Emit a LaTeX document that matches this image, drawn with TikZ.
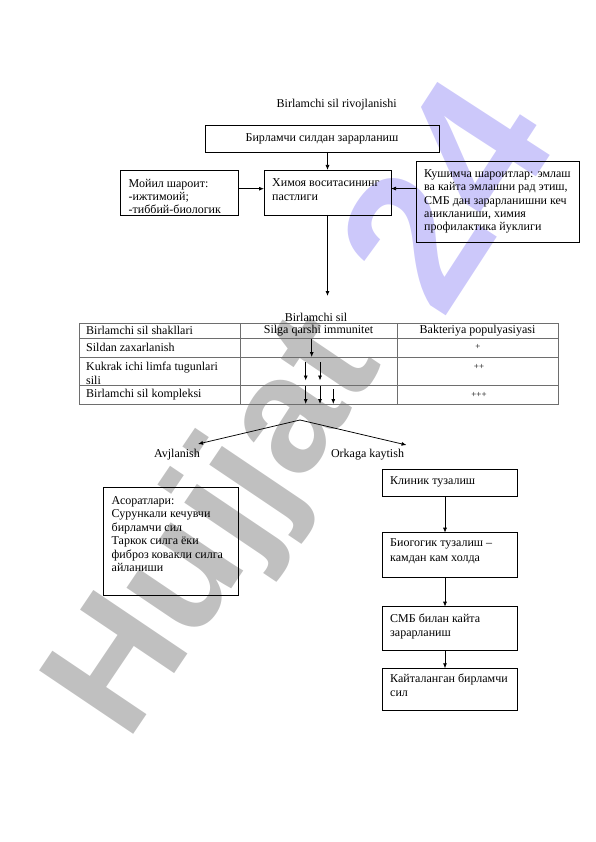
\documentclass[tikz,border=0pt]{standalone}
\usepackage{fontspec}
\setmainfont{Liberation Serif}
\newfontfamily\wmfont{Liberation Sans}
\usetikzlibrary{arrows.meta,calc}
\definecolor{wmgray}{RGB}{192,192,192}
\definecolor{wmpurple}{RGB}{204,200,250}
\definecolor{tgray}{RGB}{110,110,110}
\newcommand{\topstrut}{\rule{0pt}{9.6pt}}
\begin{document}
\begin{tikzpicture}[x=1pt,y=-1pt,
  box/.style={draw=black,line width=0.75pt,anchor=north west,inner sep=0pt,outer sep=0pt},
  txt/.style={anchor=north west,align=left,inner sep=0pt,font=\fontsize{12}{13.5}\selectfont},
  ctxt/.style={inner sep=0pt,font=\fontsize{12}{13.8}\selectfont},
  plus/.style={inner sep=0pt,font=\fontsize{9}{10}\selectfont},
  arr/.style={-{Latex[length=5pt,width=4pt]},line width=0.75pt},
  tline/.style={line width=0.75pt,draw=tgray}]
\useasboundingbox (0,0) rectangle (596,842);
% watermark
\node[anchor=base west,rotate=56,inner sep=0pt,text=wmgray,font=\wmfont\bfseries\fontsize{165}{165}\selectfont] (wmA) at (127,744) {Hujjat};
\node[anchor=base west,rotate=57,inner sep=0pt,text=wmpurple,font=\wmfont\bfseries\fontsize{195}{195}\selectfont] (wmB) at (442,322) {24};
% title
\node[ctxt] (title) at (336.7,105) {Birlamchi sil rivojlanishi};
% top boxes
\node[box,minimum width=234pt,minimum height=27pt,font=\fontsize{12}{13.8}\selectfont] (b1) at (205,125) {Бирламчи силдан зарарланиш};
\node[box,minimum width=127pt,minimum height=45pt] (b2) at (264,170) {};
\node[txt] (b2t) at (272,177) {\topstrut Химоя воситасининг\\пастлиги};
\node[box,minimum width=117.5pt,minimum height=45pt] (bl) at (120.5,170) {};
\node[txt,font=\fontsize{12}{12.9}\selectfont] (blt) at (128.5,177.5) {\topstrut Мойил шароит:\\-ижтимоий;\\-тиббий-биологик};
\node[box,minimum width=163pt,minimum height=81.7pt] (br) at (416.7,161) {};
\node[txt,font=\fontsize{12}{13.3}\selectfont] (brt) at (424,167.8) {\topstrut Кушимча шароитлар: эмлаш\\ва кайта эмлашни рад этиш,\\СМБ дан зарарланишни кеч\\аникланиши, химия\\профилактика йуклиги};
\coordinate (blA) at ($(bl.east)+(0,-3.8)$);
\coordinate (brA) at ($(br.west)+(0,-13.3)$);
\coordinate (b2end) at (327.5,296);
\draw[arr] (b1.south -| b2.north) -- (b2.north);
\draw[arr] (blA) -- (blA -| b2.west);
\draw[arr] (brA) -- (brA -| b2.east);
\draw[arr] (b2.south) -- (b2end);
% table
\node[ctxt] (tcap) at (316,317) {Birlamchi sil};
\draw[tline] (79,323.5) rectangle (558,404);
\draw[tline] (79,338) -- (558,338);
\draw[tline] (79,357) -- (558,357);
\draw[tline] (79,385.5) -- (558,385.5);
\draw[tline] (240,323.5) -- (240,404);
\draw[tline] (397,323.5) -- (397,404);
\node[ctxt,anchor=west] (h1) at (86,330.5) {Birlamchi sil shakllari};
\node[ctxt] (h2) at (318.5,330.5) {Silga qarshi immunitet};
\node[ctxt] (h3) at (477.5,330.5) {Bakteriya populyasiyasi};
\node[ctxt,anchor=west] (r1) at (86,347) {Sildan zaxarlanish};
\node[txt,font=\fontsize{12}{14.2}\selectfont] (r2) at (86,360.5) {\topstrut Kukrak ichi limfa tugunlari\\sili};
\node[ctxt,anchor=west] (r3) at (86,395) {Birlamchi sil kompleksi};
\node[plus] (p1) at (478,347) {+};
\node[plus] (p2) at (479,366.7) {++};
\node[plus] (p3) at (479,395) {+++};
\coordinate (a1s) at (311.7,338.5); \coordinate (a1e) at (311.7,357);
\coordinate (a2s) at (305.7,362); \coordinate (a2e) at (305.7,380.5);
\coordinate (a3s) at (320,362); \coordinate (a3e) at (320,380.5);
\coordinate (a4s) at (305.7,386); \coordinate (a4e) at (305.7,404);
\coordinate (a5s) at (320,386); \coordinate (a5e) at (320,404);
\coordinate (a6s) at (333.3,389); \coordinate (a6e) at (333.3,404);
\foreach \i in {1,...,6} {\draw[arr] (a\i s) -- (a\i e);}
% split
\coordinate (apex) at (300,420);
\node[ctxt] (av) at (177,455) {Avjlanish};
\node[ctxt] (ok) at (367.5,455) {Orkaga kaytish};
\draw[arr] (apex) -- ([xshift=21pt,yshift=11pt]av.center);
\draw[arr] (apex) -- ([xshift=39pt,yshift=10pt]ok.center);
% complications
\node[box,minimum width=135.3pt,minimum height=107.7pt] (cb) at (103,487.3) {};
\node[txt] (cbt) at (111.5,494.5) {\topstrut Асоратлари:\\Сурункали кечувчи\\бирламчи сил\\Таркок силга ёки\\фиброз ковакли силга\\айланиши};
% right chain
\node[box,minimum width=134.6pt,minimum height=26.7pt] (ba) at (382.7,469.3) {};
\node[txt] (bat) at (390,474.5) {\topstrut Клиник тузалиш};
\node[box,minimum width=134.6pt,minimum height=44.6pt] (bb) at (382.7,532.7) {};
\node[txt,font=\fontsize{12}{14.2}\selectfont] (bbt) at (390,537.1) {\topstrut Биогогик тузалиш –\\камдан кам холда};
\node[box,minimum width=134.6pt,minimum height=43.3pt] (bc) at (382.7,606.7) {};
\node[txt,font=\fontsize{12}{14}\selectfont] (bct) at (390,613.1) {\topstrut СМБ билан кайта\\зарарланиш};
\node[box,minimum width=134.6pt,minimum height=42.4pt] (bd) at (382.7,668.3) {};
\node[txt,font=\fontsize{12}{14}\selectfont] (bdt) at (390,673.1) {\topstrut Кайталанган бирламчи\\сил};
\draw[arr] ([xshift=-5pt]ba.south) -- ([xshift=-5pt]bb.north);
\draw[arr] ([xshift=-5pt]bb.south) -- ([xshift=-5pt]bc.north);
\draw[arr] ([xshift=-5pt]bc.south) -- ([xshift=-5pt]bd.north);
\end{tikzpicture}
\end{document}
